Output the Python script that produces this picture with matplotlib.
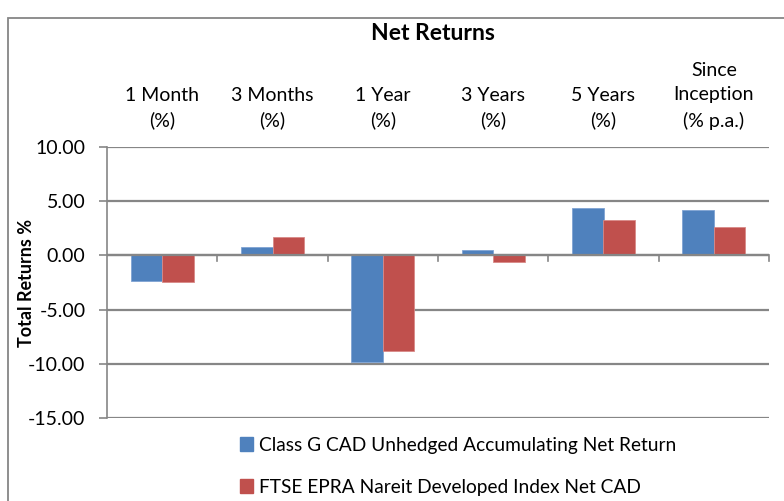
import numpy as np
import matplotlib.pyplot as plt
from matplotlib.patches import Rectangle, Patch

plt.rcParams['font.family'] = ['Lato', 'DejaVu Sans']

categories = ['1 Month\n(%)', '3 Months\n(%)', '1 Year\n(%)', '3 Years\n(%)',
              '5 Years\n(%)', 'Since\nInception\n(% p.a.)']
fund = [-2.40, 0.74, -9.88, 0.52, 4.37, 4.16]
index = [-2.49, 1.66, -8.86, -0.65, 3.23, 2.59]
fund_name = 'Class G CAD Unhedged Accumulating Net Return'
index_name = 'FTSE EPRA Nareit Developed Index Net CAD'
yticks = [10, 5, 0, -5, -10, -15]

blue = '#4F81BD'
red = '#C0504D'
grey = '#868686'
fs = 14

fig = plt.figure(figsize=(7.84, 5.01), dpi=100)
# outer chart border
fig.patches.append(Rectangle((8 / 784, -0.1), 1.2, 1 - 17.5 / 501 + 0.1,
                             transform=fig.transFigure, fill=False,
                             edgecolor=grey, linewidth=1.3))

ax = fig.add_axes([107 / 784, 1 - 418 / 501, (769 - 107) / 784, (418 - 147) / 501])

x = np.arange(len(categories))
w = 0.285
ax.bar(x - w / 2, fund, w, color=blue, edgecolor='#7FA3D3', linewidth=0.6, zorder=3)
ax.bar(x + w / 2, index, w, color=red, edgecolor='#D88A88', linewidth=0.6, zorder=3)

ax.set_xlim(-0.5, len(categories) - 0.5)
ax.set_ylim(-15, 10)
ax.set_yticks(yticks)
ax.set_yticklabels(['%.2f' % v for v in yticks], fontsize=fs)
ax.yaxis.grid(True, color=grey, linewidth=1.6, zorder=0)
ax.tick_params(axis='y', length=5.5, color=grey, width=1.2, pad=10)

for s in ['top', 'right', 'bottom']:
    ax.spines[s].set_visible(False)
ax.spines['left'].set_color(grey)
ax.spines['left'].set_linewidth(1.2)

# category axis sitting on the zero line
ax.axhline(0, color=grey, linewidth=1.6, zorder=4)
ax.set_xticks([])
for b in np.arange(0.5, len(categories), 1.0):
    ax.plot([b, b], [0, -0.5], color=grey, linewidth=1.2, zorder=4, clip_on=False)

# category labels above plot
for i, c in enumerate(categories):
    ax.text(i, 11.6, c, ha='center', va='bottom', fontsize=fs, linespacing=1.55)

fig.text(27 / 784, 1 - 283 / 501, 'Total Returns %', rotation=90, ha='center',
         va='center', fontsize=13, fontweight='bold')
fig.text(433 / 784, 1 - 33 / 501, 'Net Returns', ha='center', va='center',
         fontsize=16.5, fontweight='bold')

handles = [Patch(color=blue, label=fund_name), Patch(color=red, label=index_name)]
fig.legend(handles=handles, loc='upper left', bbox_to_anchor=(232 / 784, 1 - 429 / 501),
           frameon=False, fontsize=13.8, handlelength=0.7, handleheight=0.7,
           handletextpad=0.3, labelspacing=1.3, borderaxespad=0)

fig.savefig('out.png', dpi=100)
